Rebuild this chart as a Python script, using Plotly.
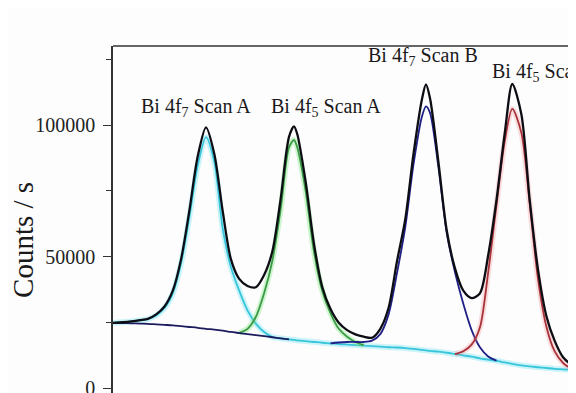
import plotly.graph_objects as go

# Binding energy grid (eV)
energy = [153.4, 154.0, 154.5, 155.0, 155.5, 156.0, 156.5, 157.0, 157.5, 158.0,
          158.5, 159.0, 159.5, 160.0, 160.5, 161.0, 161.5, 162.0, 162.5, 163.0,
          163.5, 164.0, 164.3, 164.5, 165.0, 165.5, 166.0, 166.5, 167.0, 167.5,
          168.0, 168.5, 169.0, 169.5, 170.0, 170.5, 171.0, 171.5, 172.0, 172.25,
          172.5, 173.0, 173.5, 174.0, 174.5, 175.0, 175.5, 176.0, 176.5, 177.0,
          177.45, 178.0, 178.5, 179.0, 179.5, 180.0, 180.5, 181.0, 181.5]

# Envelope (black)
envelope = [24800, 25000, 25300, 25800, 26300, 28000, 31000, 37000, 49000, 67500,
            88000, 99100, 89000, 67500, 49000, 41500, 38800, 38300, 43000, 52000,
            72000, 95500, 99500, 96500, 78500, 55000, 38500, 30000, 24800, 22000,
            20400, 19500, 19100, 22500, 30500, 48000, 64000, 89000, 109500, 115400,
            110000, 86000, 60000, 45500, 37000, 34200, 36000, 50500, 71500, 97000,
            115600, 104000, 71500, 45000, 27500, 18000, 11800, 9000, 7600]

# Background (shared)
background = [24800, 24700, 24600, 24500, 24400, 24200, 24000, 23800, 23500, 23200,
              22900, 22500, 22200, 21800, 21300, 20900, 20500, 20100, 19700, 19300,
              18900, 18500, 18300, 18100, 17800, 17500, 17200, 17000, 16700, 16500,
              16300, 16100, 15900, 15700, 15500, 15400, 15200, 14900, 14500, 14300,
              14100, 13800, 13400, 12900, 12400, 11900, 11300, 10800, 10300, 9700,
              9200, 8600, 8200, 7900, 7600, 7300, 7100, 6900, 6800]

# Bi 4f7 Scan A component (cyan), first 20 grid points, then runs on the background
a7_peak = [24800, 25000, 25300, 25700, 26200, 27600, 30400, 36000, 47500, 65000,
           84500, 95400, 86000, 61000, 46000, 37000, 29500, 24500, 21300, 19400]

# Bi 4f5 Scan A component (green), grid points 15..31
a5_start = 15
a5_peak = [21000, 22500, 27000, 36000, 48500, 68000, 91500, 94300, 91500, 75000,
           52000, 37000, 28500, 22500, 19500, 17500, 16300]

# Bi 4f7 Scan B component (blue), grid points 27..48
b7_start = 27
b7_peak = [17000, 17300, 17500, 17500, 17500, 18000, 20500, 28000, 43500, 61000,
           85000, 103000, 107100, 104500, 84000, 59000, 44000, 32000, 22000, 15500,
           12000, 10400]

# Bi 4f5 Scan B component (red), grid points 43..58
b5_start = 43
b5_peak = [12900, 14000, 16500, 23000, 44000, 69500, 94000, 106100, 97000, 70000,
           41500, 23500, 14000, 9600, 7500, 6800]

labels = ["Bi 4f<sub>7</sub> Scan A", "Bi 4f<sub>5</sub> Scan A",
          "Bi 4f<sub>7</sub> Scan B", "Bi 4f<sub>5</sub> Scan B"]
label_energy = [158.4, 166.2, 172.1, 179.55]
label_counts = [106500, 106500, 126200, 119800]

n_a7 = len(a7_peak)
cyan_y = a7_peak + background[n_a7:]
navy_end = 22

fig = go.Figure()

def add_line(x, y, color, width, halo=None):
    if halo:
        fig.add_trace(go.Scatter(x=x, y=y, mode="lines",
                                 line=dict(color=halo, width=width + 4, shape="spline", smoothing=0.8),
                                 hoverinfo="skip", showlegend=False))
    fig.add_trace(go.Scatter(x=x, y=y, mode="lines",
                             line=dict(color=color, width=width, shape="spline", smoothing=0.8),
                             showlegend=False))

add_line(energy, cyan_y, "#38c4da", 1.8, "rgba(110,225,240,0.35)")
add_line(energy[a5_start:a5_start + len(a5_peak)], a5_peak, "#3a9a45", 1.8, "rgba(120,230,120,0.35)")
add_line(energy[:navy_end], background[:navy_end], "#1b1b5e", 1.8)
add_line(energy[b7_start:b7_start + len(b7_peak)], b7_peak, "#1f1f86", 1.8)
add_line(energy[b5_start:b5_start + len(b5_peak)], b5_peak, "#a8323a", 1.8, "rgba(240,130,130,0.25)")
add_line(energy, envelope, "#0d0d14", 2.3)

for t, xe, yc in zip(labels, label_energy, label_counts):
    fig.add_annotation(x=xe, y=yc, text=t, showarrow=False, xanchor="center", yanchor="middle",
                       font=dict(family="Liberation Serif", size=20, color="#1a1a1a"))

fig.add_annotation(xref="paper", yref="paper", x=-0.1945, y=0.441, text="Counts / s", textangle=-90,
                   showarrow=False, xanchor="center", yanchor="middle",
                   font=dict(family="Liberation Serif", size=29, color="#1a1a1a"))

fig.add_shape(type="line", xref="paper", yref="paper", x0=0, x1=1, y0=1, y1=1,
              line=dict(color="#333333", width=1.5))

fig.update_layout(
    width=568, height=385,
    margin=dict(l=105, r=0, t=38, b=0),
    paper_bgcolor="#fdfdfe", plot_bgcolor="#fdfdfe",
    showlegend=False,
    xaxis=dict(range=[153.398, 181.289], showticklabels=False, ticks="", showgrid=False,
               zeroline=False, showline=False),
    yaxis=dict(range=[-1900, 130040], tickvals=[0, 50000, 100000], ticktext=["0", "50000", "100000"],
               ticks="outside", ticklen=8, tickwidth=1.3, tickcolor="#333333",
               showline=True, linecolor="#333333", linewidth=1.5,
               showgrid=False, zeroline=False, ticklabelstandoff=4, automargin=False,
               ticklabeloverflow="allow",
               tickfont=dict(family="Liberation Serif", size=20, color="#222222"),
               minor=dict(tickvals=[25000, 75000, 125000], ticks="outside", ticklen=5,
                          tickcolor="#333333", tickwidth=1.2, showgrid=False)),
)

fig.write_html("out.html")
